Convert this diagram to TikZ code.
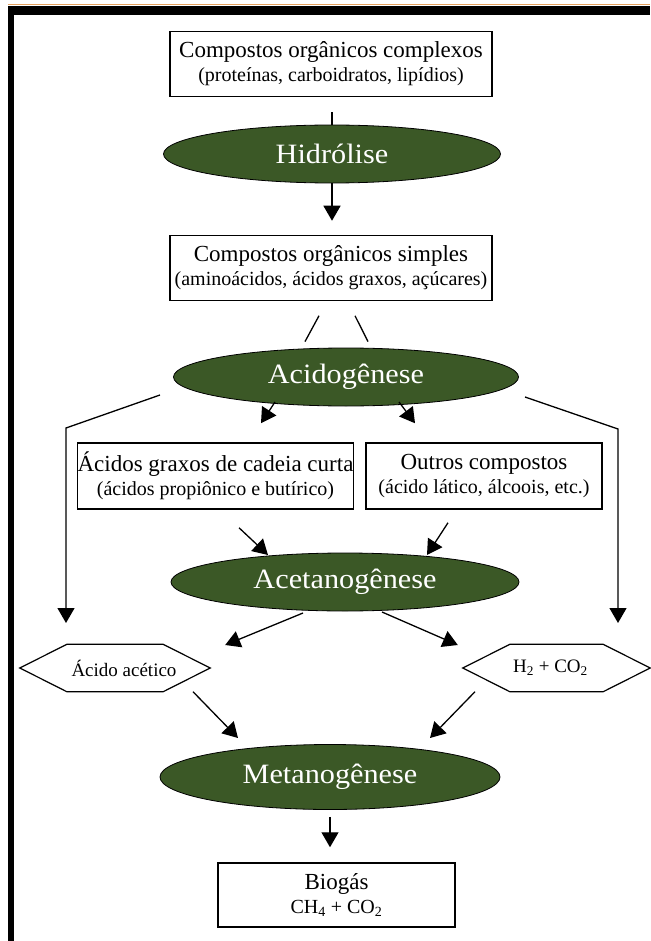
\documentclass[tikz,border=0pt]{standalone}
\usepackage{fontspec}
\setmainfont{Liberation Serif}
\newfontfamily\phasefont{Liberation Serif}[FakeStretch=1.08]
\usepackage{tikz}
\usetikzlibrary{shapes.geometric, arrows.meta, calc}
\definecolor{mossgreen}{RGB}{59,88,38}
\definecolor{frameorange}{RGB}{228,160,92}
\newcommand{\bigtxt}{\fontsize{23}{26}\selectfont}
\newcommand{\smalltxt}{\fontsize{20}{24}\selectfont}
% hexagonal outline round a plain node
\newcommand{\hexframe}[1]{%
  \draw[line width=1.2pt] (#1.west) -- ([xshift=47pt]#1.north west) -- ([xshift=-47pt]#1.north east)
    -- (#1.east) -- ([xshift=-47pt]#1.south east) -- ([xshift=47pt]#1.south west) -- cycle;}

\begin{document}
\begin{tikzpicture}[x=1pt, y=-1pt,
    box/.style={draw, line width=1.5pt, align=center, inner sep=0pt, font=\smalltxt},
    phase/.style={ellipse, draw=black, line width=0.8pt, fill=mossgreen, text=white,
        inner sep=0pt, font=\phasefont\fontsize{28}{30}\selectfont},
    hexa/.style={inner sep=0pt, minimum height=47pt, font=\fontsize{19}{22}\selectfont},
    link/.style={line width=1.3pt},
    arr/.style={link, -{Triangle[length=15pt,width=17pt]}}]
    \useasboundingbox (0,0) rectangle (650,941);
    % frame
    \fill[black] (8,6) rectangle (650,15);
    \fill[black] (8,6) rectangle (14,941);
    \draw[frameorange, line width=1pt] (8,5) -- (650,5);

    \node[box, minimum width=322pt, minimum height=65pt] (cc) at (331,64)
        {{\bigtxt Compostos orgânicos complexos}\\(proteínas, carboidratos, lipídios)};
    \node[phase, minimum width=337pt, minimum height=58pt] (hid) at (332,154) {Hidrólise};
    \node[box, minimum width=322pt, minimum height=65pt] (cs) at (331,268)
        {{\bigtxt Compostos orgânicos simples}\\(aminoácidos, ácidos graxos, açúcares)};
    \node[phase, minimum width=345pt, minimum height=58pt] (acid) at (346,377) {Acidogênese};
    \node[box, minimum width=275pt, minimum height=66pt] (agc) at (215.5,476)
        {{\bigtxt Ácidos graxos de cadeia curta}\\(ácidos propiônico e butírico)};
    \node[box, minimum width=236pt, minimum height=66pt] (oc) at (484,476)
        {{\bigtxt Outros compostos}\\(ácido lático, álcoois, etc.)};
    \node[phase, minimum width=348pt, minimum height=58pt] (acet) at (345,582) {Acetanogênese};
    \node[hexa, minimum width=190pt] (aa) at (115,668) {\hspace*{18pt}Ácido acético};
    \node[hexa, minimum width=187pt] (hc) at (556.5,668) {H\textsubscript{2} + CO\textsubscript{2}\hspace*{12pt}};
    \hexframe{aa}
    \hexframe{hc}
    \node[phase, minimum width=340pt, minimum height=65pt] (met) at (330,777) {Metanogênese};
    \node[box, minimum width=237pt, minimum height=64pt] (bio) at (336.5,895)
        {{\bigtxt Biogás}\\CH\textsubscript{4} + CO\textsubscript{2}};

    \draw[link, shorten <=15pt] (cc.south -| hid.north) -- (hid.north);
    \draw[arr, shorten >=14pt] (hid.south) -- (hid.south |- cs.north);
    \draw[link] ($(cs.south)+(-12,14.5)$) -- ($(acid.north)+(-41,-6)$);
    \draw[link] ($(cs.south)+(24,14.5)$) -- ($(acid.north)+(22,-6)$);

    \draw[arr] ($(acid)+(-186,18)$) -- ($(aa)+(-49,-240)$) -- ($(aa)+(-49,-45)$);
    \draw[arr] ($(acid)+(179,20)$) -- ($(hc)+(61.5,-239)$) -- ($(hc)+(61.5,-45)$);
    \draw[arr] ($(acid)+(-71,25)$) -- ($(agc.north)+(45.5,-19)$);
    \draw[arr] ($(acid)+(53,25)$) -- ($(oc.north)+(-69,-19)$);

    \draw[arr] ($(agc.south)+(23.5,18)$) -- ($(acet)+(-77,-27)$);
    \draw[arr] ($(oc.south)+(-36,13)$) -- ($(acet)+(82,-27)$);
    \draw[arr] ($(acet)+(-42,31)$) -- ($(aa.east)+(15,-23)$);
    \draw[arr] ($(acet)+(37,30)$) -- ($(hc.west)+(-5,-23)$);

    \draw[arr] ($(aa.south)+(78,0)$) -- ($(met)+(-92,-39)$);
    \draw[arr] ($(hc.south)+(-81.5,0)$) -- ($(met)+(100,-39)$);
    \draw[arr, shorten <=7pt, shorten >=15pt] (met.south) -- (met.south |- bio.north);
\end{tikzpicture}
\end{document}
